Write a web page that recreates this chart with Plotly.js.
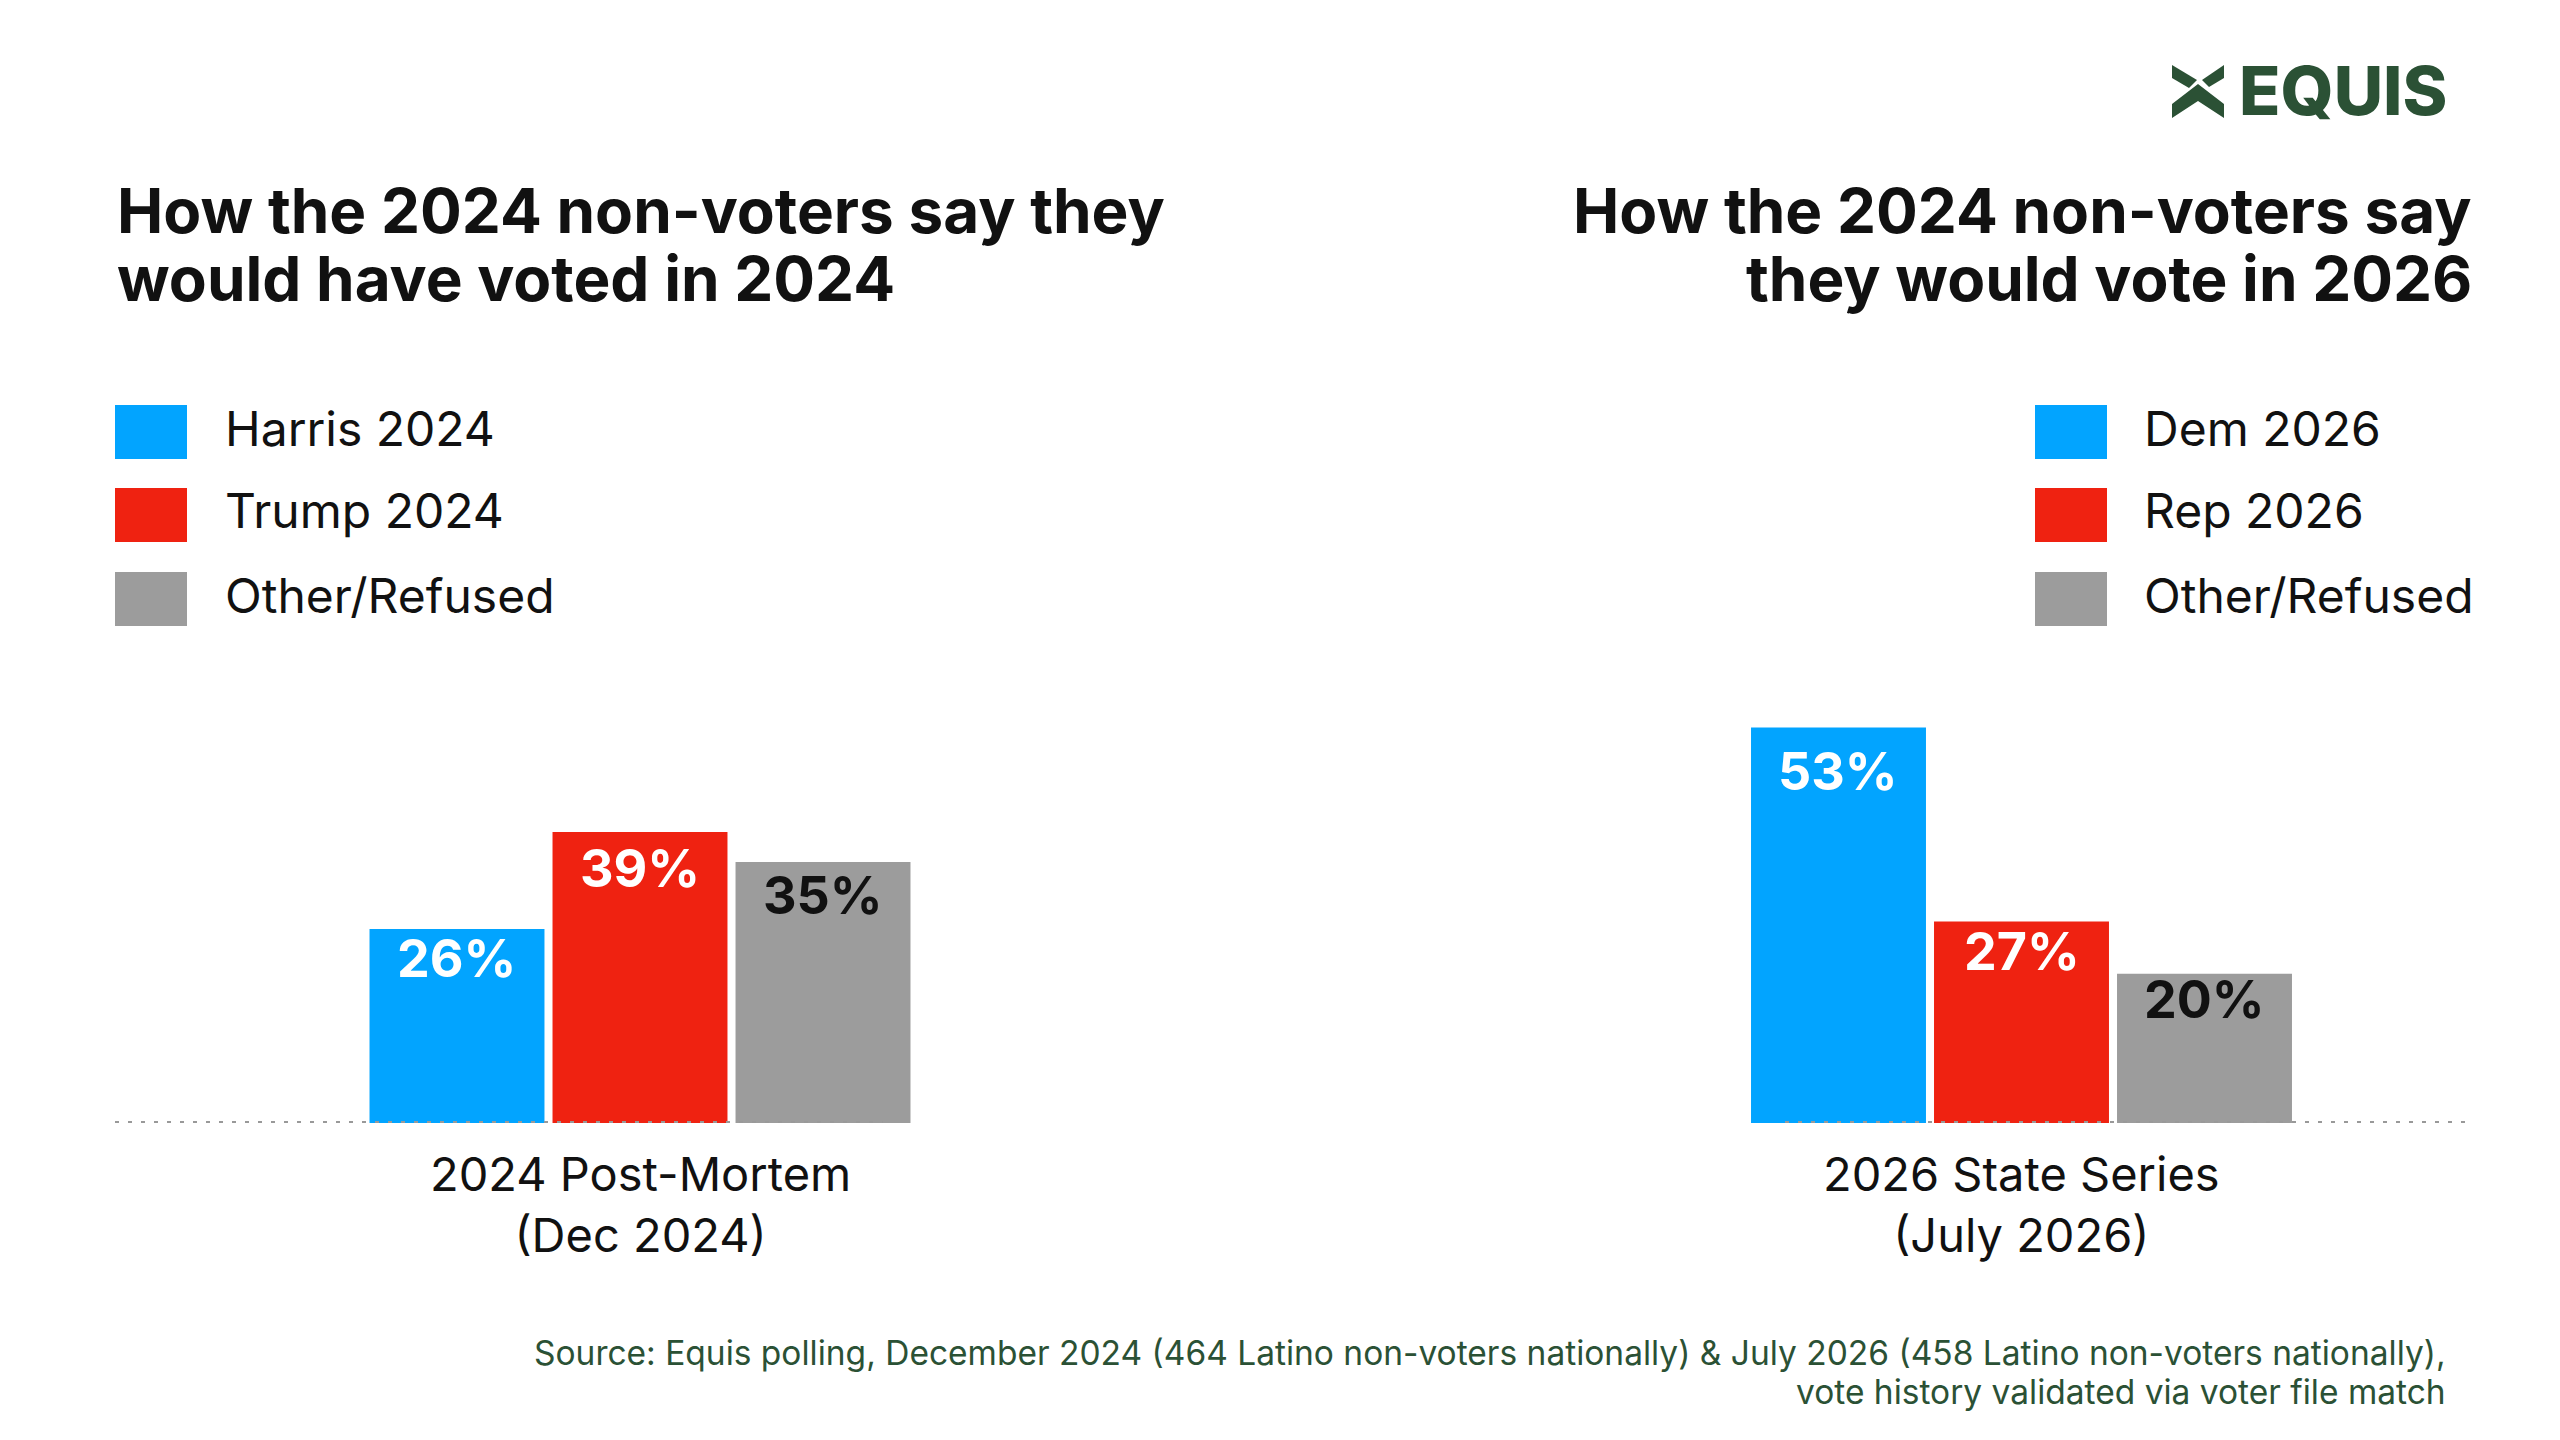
<!DOCTYPE html>
<html>
<head>
<meta charset="utf-8">
<script src="https://cdn.plot.ly/plotly-3.0.1.min.js"></script>
<style>
  html, body { margin: 0; padding: 0; background: #fff; }
  #chart { width: 2560px; height: 1440px; }
</style>
</head>
<body>
<div id="chart"></div>
<script>
// values
leftCategory = ['2024 Post-Mortem<br>(Dec 2024)']
leftSeries = ['Harris 2024', 'Trump 2024', 'Other/Refused']
leftValues = [26, 39, 35]

rightCategory = ['2026 State Series<br>(July 2026)']
rightSeries = ['Dem 2026', 'Rep 2026', 'Other/Refused']
rightValues = [53, 27, 20]

leftTitle = ['How the 2024 non-voters say they', 'would have voted in 2024']
rightTitle = ['How the 2024 non-voters say', 'they would vote in 2026']
sourceLines = [
    'Source: Equis polling, December 2024 (464 Latino non-voters nationally) & July 2026 (458 Latino non-voters nationally),',
    'vote history validated via voter file match'
]

barColors = ['#02a4ff', '#ef2211', '#9c9c9c']
labelColors = ['#ffffff', '#ffffff', '#111111']
green = '#2b5135'
ink = '#111111'
font = 'Inter, "Noto Sans", sans-serif'

W = 2560
H = 1440
// pixel -> paper helpers, page is drawn with zero margins
px = (v) => v / W
py = (v) => 1 - v / H

BARGAP = 0.434
GROUPGAP = 0.044
PANEL_W = 970   // width of each x-axis domain in px

make_bars = (cats, names, vals, xa, ya) => {
    traces = []
    for (i = 0; i < names.length; i++) {
        traces.push({
            type: 'bar',
            x: cats,
            y: [vals[i]],
            name: names[i],
            xaxis: xa,
            yaxis: ya,
            marker: {color: barColors[i], line: {width: 0}},
            hoverinfo: 'skip'
        })
    }
    return traces
}

data = make_bars(leftCategory, leftSeries, leftValues, 'x', 'y')
    .concat(make_bars(rightCategory, rightSeries, rightValues, 'x2', 'y2'))

annotations = []
shapes = []

// value labels near the top of each bar
slotPx = (1 - BARGAP) / 3 * PANEL_W
add_values = (cat, vals, xa, ya) => {
    for (i = 0; i < vals.length; i++) {
        annotations.push({xref: xa, yref: ya, x: cat, y: vals[i],
            xshift: (i - (vals.length - 1) / 2) * slotPx, yshift: -(15 + 0.54 * vals[i]),
            xanchor: 'center', yanchor: 'middle', showarrow: false, text: vals[i] + '%',
            font: {family: font, size: 52, weight: 700, color: labelColors[i]}})
    }
}
add_values(leftCategory[0], leftValues, 'x', 'y')
add_values(rightCategory[0], rightValues, 'x2', 'y2')

// titles, one annotation per line to keep the tight leading
titleY = [210, 279]
for (i = 0; i < leftTitle.length; i++) {
    annotations.push({xref: 'paper', yref: 'paper', x: px(115), y: py(titleY[i]),
        xanchor: 'left', yanchor: 'middle', showarrow: false, text: leftTitle[i],
        font: {family: font, size: 62, weight: 700, color: ink}})
    annotations.push({xref: 'paper', yref: 'paper', x: px(2474), y: py(titleY[i]),
        xanchor: 'right', yanchor: 'middle', showarrow: false, text: rightTitle[i],
        font: {family: font, size: 62, weight: 700, color: ink}})
}

// legends drawn by hand: big swatches + labels
legendY = [432, 515, 599]
add_legend = (names, swatchX, textX) => {
    for (i = 0; i < names.length; i++) {
        shapes.push({type: 'rect', xref: 'paper', yref: 'paper',
            x0: px(swatchX), x1: px(swatchX + 72),
            y0: py(legendY[i] - 27), y1: py(legendY[i] + 27),
            fillcolor: barColors[i], line: {width: 0}})
        annotations.push({xref: 'paper', yref: 'paper', x: px(textX), y: py(legendY[i] - 4),
            xanchor: 'left', yanchor: 'middle', showarrow: false, text: names[i],
            font: {family: font, size: 48, color: ink}})
    }
}
add_legend(leftSeries, 115, 223)
add_legend(rightSeries, 2035, 2142)

// category labels under each group
add_cat = (cat, xa) => {
    annotations.push({xref: xa, yref: 'paper', x: cat, y: py(1204),
        xanchor: 'center', yanchor: 'middle', showarrow: false, text: cat,
        font: {family: font, size: 47, color: ink}})
}
add_cat(leftCategory[0], 'x')
add_cat(rightCategory[0], 'x2')

// dotted baselines
shapes.push({type: 'line', xref: 'paper', yref: 'y', x0: px(115), x1: px(883), y0: 0, y1: 0,
    line: {color: '#999999', width: 4, dash: '4px,9px'}, layer: 'above'})
shapes.push({type: 'line', xref: 'paper', yref: 'y2', x0: px(1785), x1: px(2467), y0: 0, y1: 0,
    line: {color: '#999999', width: 4, dash: '4px,9px'}, layer: 'above'})

// source note
sourceY = [1353, 1392]
for (i = 0; i < sourceLines.length; i++) {
    annotations.push({xref: 'paper', yref: 'paper', x: px(2448), y: py(sourceY[i]),
        xanchor: 'right', yanchor: 'middle', showarrow: false, text: sourceLines[i],
        font: {family: font, size: 33.5, color: green}})
}

// logo: mark + wordmark
logoX = 2172
logoY = 65
mark = [
    [[0, 0], [25, 15], [17, 23], [0, 13]],
    [[52, 0], [52, 13], [37, 22], [30, 15]],
    [[0, 39], [26, 19], [52, 39], [52, 53], [26, 36], [0, 53]]
]
mark.forEach(poly => {
    d = poly.map((p, k) => (k ? 'L' : 'M') + px(logoX + p[0]) + ',' + py(logoY + p[1])).join(' ') + ' Z'
    shapes.push({type: 'path', xref: 'paper', yref: 'paper', path: d, fillcolor: green, line: {width: 0}})
})
annotations.push({xref: 'paper', yref: 'paper', x: px(2237), y: py(90),
    xanchor: 'left', yanchor: 'middle', showarrow: false, text: 'EQUIS',
    font: {family: font, size: 68, weight: 800, color: green}})

hiddenX = {showgrid: false, zeroline: false, showline: false, ticks: '', showticklabels: false, fixedrange: true}
hiddenY = {showgrid: false, zeroline: false, showline: false, ticks: '', showticklabels: false,
    range: [0, 60], fixedrange: true, domain: [py(1123), py(1123 - 60 * 7.46)]}

var layout = {
    width: W,
    height: H,
    margin: {l: 0, r: 0, t: 0, b: 0, pad: 0},
    paper_bgcolor: '#ffffff',
    plot_bgcolor: '#ffffff',
    showlegend: false,
    barmode: 'group',
    bargap: BARGAP,
    bargroupgap: GROUPGAP,
    font: {family: font, color: ink},
    xaxis: Object.assign({}, hiddenX, {domain: [px(640 - PANEL_W / 2), px(640 + PANEL_W / 2)], anchor: 'y'}),
    yaxis: Object.assign({}, hiddenY, {anchor: 'x'}),
    xaxis2: Object.assign({}, hiddenX, {domain: [px(2021.5 - PANEL_W / 2), px(2021.5 + PANEL_W / 2)], anchor: 'y2'}),
    yaxis2: Object.assign({}, hiddenY, {anchor: 'x2'}),
    annotations: annotations,
    shapes: shapes
}

Plotly.newPlot('chart', data, layout, {displayModeBar: false, staticPlot: true})
</script>
</body>
</html>
